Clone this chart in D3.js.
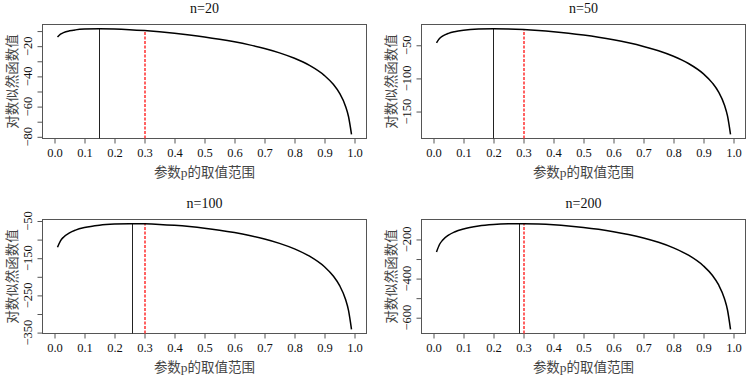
<!DOCTYPE html>
<html>
<head>
<meta charset="utf-8">
<script src="https://cdn.jsdelivr.net/npm/d3@7"></script>
<style>
  body { margin: 0; background: #fff; }
  svg { display: block; }
  .tick-label, .title { font-family: "Liberation Serif", "Times New Roman", serif; }
  .axis-title { font-family: "Liberation Serif", "Noto Sans CJK SC", serif; }
</style>
</head>
<body>
<div id="chart"></div>
<script>
const pGrid = [0.01, 0.02, 0.03, 0.05, 0.07, 0.1, 0.15, 0.2, 0.25, 0.3, 0.35, 0.4, 0.45, 0.5,
               0.55, 0.6, 0.65, 0.7, 0.75, 0.8, 0.85, 0.9, 0.93, 0.95, 0.97, 0.98, 0.99];

// log-likelihood for each sample size
const ll20 = [-13.99, -12.08, -11.04, -9.86, -9.21, -8.70, -8.45, -8.62, -9.05, -9.68, -10.47, -11.43, -12.56, -13.86,
              -15.37, -17.11, -19.14, -21.54, -24.43, -28.03, -32.74, -39.46, -45.43, -51.08, -59.70, -66.57, -78.32];
const ll50 = [-46.45, -39.93, -36.28, -32.01, -29.50, -27.24, -25.47, -25.02, -25.37, -26.31, -27.73, -29.60, -31.90, -34.66,
              -37.92, -41.76, -46.30, -51.73, -58.33, -66.61, -77.51, -93.16, -107.10, -120.34, -140.57, -156.68, -184.31];
const ll100 = [-120.48, -103.21, -93.43, -81.68, -74.51, -67.66, -61.35, -58.36, -57.33, -57.70, -59.17, -61.63, -65.00, -69.32,
               -74.63, -81.09, -88.89, -98.37, -110.07, -124.90, -144.61, -173.13, -198.68, -223.02, -260.28, -290.01, -341.05];
const ll200 = [-263.93, -225.87, -204.23, -178.09, -161.96, -146.31, -131.37, -123.65, -120.16, -119.63, -121.44, -125.28, -131.00, -138.63,
               -148.27, -160.15, -174.67, -192.50, -214.64, -242.86, -280.55, -335.28, -384.42, -431.31, -503.18, -560.57, -659.12];

const sampleSizes = [20, 50, 100, 200];
const mleP = [0.15, 0.2, 0.26, 0.285];
const mleLL = [-8.45, -25.02, -57.31, -119.52];
const trueP = 0.3;
const trueLL = [-9.68, -26.31, -57.70, -119.63];

const xTicks = [0, 0.1, 0.2, 0.3, 0.4, 0.5, 0.6, 0.7, 0.8, 0.9, 1.0];
const yTicks = [
  [-10, -20, -30, -40, -50, -60, -70, -80],
  [-50, -100, -150],
  [-50, -100, -150, -200, -250, -300, -350],
  [-200, -300, -400, -500, -600]
];
const yLabels = [
  [-20, -40, -60, -80],
  [-50, -100, -150],
  [-50, -150, -250, -350],
  [-200, -400, -600]
];

const xTitle = "参数p的取值范围";
const yTitle = "对数似然函数值";

const series = [ll20, ll50, ll100, ll200];

// plot boxes (R mfrow=c(2,2))
const boxes = [
  { x0: 42.5, x1: 366.5, y0: 24.5, y1: 138.5 },
  { x0: 421.5, x1: 745.5, y0: 24.5, y1: 138.5 },
  { x0: 42.5, x1: 366.5, y0: 219.5, y1: 333.5 },
  { x0: 421.5, x1: 745.5, y0: 219.5, y1: 333.5 }
];

const svg = d3.select("#chart").append("svg")
  .attr("width", 749).attr("height", 377);

const fmtMinus = v => d3.format(".0f")(v).replace("-", "\u2212");
const snap = v => Math.round(v - 0.5) + 0.5;

sampleSizes.forEach((n, i) => {
  const b = boxes[i];
  const pts = pGrid.map((p, j) => ({ p, v: series[i][j] }));
  pts.push({ p: mleP[i], v: mleLL[i] });
  pts.sort((a, c) => a.p - c.p);

  const x = d3.scaleLinear().domain([-0.04, 1.04]).range([b.x0, b.x1]);
  const [lo, hi] = d3.extent(pts, d => d.v);
  const pad = (hi - lo) * 0.04;
  const y = d3.scaleLinear().domain([lo - pad, hi + pad]).range([b.y1, b.y0]);

  const g = svg.append("g");

  // box
  g.append("rect")
    .attr("x", b.x0).attr("y", b.y0)
    .attr("width", b.x1 - b.x0).attr("height", b.y1 - b.y0)
    .attr("fill", "none").attr("stroke", "#555").attr("stroke-width", 1);

  // x axis
  const xa = g.append("g").attr("transform", `translate(0,${b.y1})`)
    .call(d3.axisBottom(x).tickValues(xTicks).tickFormat(d3.format(".1f")).tickSize(5).tickPadding(4));
  xa.select(".domain").remove();
  xa.selectAll("line").attr("stroke", "#555");
  xa.selectAll("text").attr("class", "tick-label").attr("font-size", 12.5).attr("fill", "#111")
    .attr("dy", null).attr("y", 18);

  // y axis
  const ya = g.append("g").attr("transform", `translate(${b.x0},0)`)
    .call(d3.axisLeft(y).tickValues(yTicks[i]).tickSize(5).tickFormat(""));
  ya.select(".domain").remove();
  ya.selectAll("line").attr("stroke", "#555");
  g.selectAll(".ylab")
    .data(yLabels[i])
    .join("text")
    .attr("class", "tick-label")
    .attr("transform", d => `translate(${b.x0 - 10.5},${y(d)}) rotate(-90)`)
    .attr("text-anchor", "middle")
    .attr("font-size", 12.5).attr("fill", "#111")
    .text(fmtMinus);

  // MLE line
  const xm = snap(x(mleP[i]));
  g.append("line")
    .attr("x1", xm).attr("x2", xm)
    .attr("y1", b.y1).attr("y2", y(mleLL[i]))
    .attr("stroke", "#222").attr("stroke-width", 1);

  // true p line
  const xt = Math.round(x(trueP));
  g.append("line")
    .attr("x1", xt).attr("x2", xt)
    .attr("y1", b.y1).attr("y2", y(trueLL[i]))
    .attr("stroke", "#ff3b3b").attr("stroke-width", 1.6)
    .attr("stroke-dasharray", "3,1.5");

  // curve
  g.append("path")
    .datum(pts)
    .attr("fill", "none").attr("stroke", "#000").attr("stroke-width", 1.5)
    .attr("d", d3.line().x(d => x(d.p)).y(d => y(d.v)).curve(d3.curveMonotoneX));

  // titles
  g.append("text").attr("class", "title")
    .attr("x", (b.x0 + b.x1) / 2).attr("y", b.y0 - 12)
    .attr("text-anchor", "middle").attr("font-size", 14).attr("fill", "#111")
    .text(`n=${n}`);

  g.append("text").attr("class", "axis-title")
    .attr("x", (b.x0 + b.x1) / 2).attr("y", b.y1 + 38)
    .attr("text-anchor", "middle").attr("font-size", 13.5).attr("fill", "#444")
    .text(xTitle);

  g.append("text").attr("class", "axis-title")
    .attr("transform", `translate(${b.x0 - 26},${(b.y0 + b.y1) / 2}) rotate(-90)`)
    .attr("text-anchor", "middle").attr("font-size", 13.5).attr("fill", "#444")
    .text(yTitle);
});
</script>
</body>
</html>
